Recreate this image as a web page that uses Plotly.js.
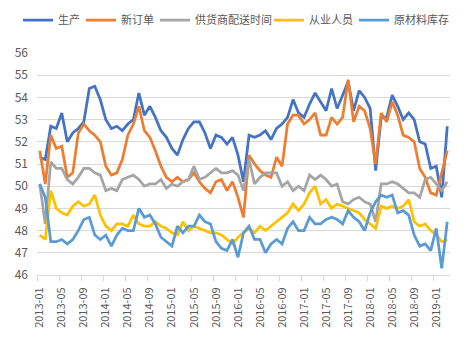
<!DOCTYPE html>
<html>
<head>
<meta charset="utf-8">
<script src="https://cdn.plot.ly/plotly-3.0.1.min.js"></script>
<style>html,body{margin:0;padding:0;background:#fff;}#chart{width:469px;height:342px;}</style>
</head>
<body>
<div id="chart"></div>
<script>
// Months 2013-01 .. 2019-03
const months = [];
for (let y = 2013; y <= 2019; y++) {
  for (let m = 1; m <= 12; m++) {
    if (y === 2019 && m > 3) break;
    months.push(y + '-' + String(m).padStart(2, '0'));
  }
}

const seriesNames = ['生产', '新订单', '供货商配送时间', '从业人员', '原材料库存'];

const production = [
  51.3, 51.2, 52.7, 52.6, 53.3, 52.0, 52.4, 52.6, 52.9, 54.4, 54.5, 53.9,
  53.0, 52.6, 52.7, 52.5, 52.8, 53.0, 54.2, 53.2, 53.6, 53.1, 52.5, 52.2,
  51.7, 51.4, 52.1, 52.6, 52.9, 52.9, 52.4, 51.7, 52.3, 52.2, 51.9, 52.2,
  51.4, 50.2, 52.3, 52.2, 52.3, 52.5, 52.1, 52.6, 52.8, 53.1, 53.9, 53.3,
  53.1, 53.7, 54.2, 53.8, 53.4, 54.4, 53.5, 54.1, 54.7, 53.4, 54.3, 54.0,
  53.5, 50.7, 53.1, 53.1, 54.1, 53.6, 53.0, 53.3, 53.0, 52.0, 51.9, 50.8,
  50.9, 49.5, 52.7
];
const newOrders = [
  51.6, 50.1, 52.3, 51.7, 51.8, 50.4, 50.6, 52.4, 52.8, 52.5, 52.3, 52.0,
  50.9, 50.5, 50.6, 51.2, 52.3, 52.8, 53.6, 52.5, 52.2, 51.6, 50.9, 50.4,
  50.2, 50.4, 50.2, 50.3, 50.6, 50.2, 49.9, 49.7, 50.2, 50.3, 49.8, 50.2,
  49.5, 48.6, 51.4, 51.0, 50.7, 50.5, 50.4, 51.3, 50.9, 52.8, 53.2, 53.2,
  52.8, 53.0, 53.3, 52.3, 52.3, 53.1, 52.8, 53.1, 54.8, 52.9, 53.6, 53.4,
  52.6, 51.0, 53.3, 52.9, 53.8, 53.2, 52.3, 52.2, 52.0, 50.8, 50.4, 49.7,
  49.6, 50.6, 51.6
];
const supplierDelivery = [
  50.1, 48.3, 51.1, 50.8, 50.8, 50.3, 50.1, 50.4, 50.8, 50.8, 50.6, 50.5,
  49.8, 49.9, 49.8, 50.3, 50.4, 50.5, 50.3, 50.0, 50.1, 50.1, 50.3, 49.9,
  50.1, 50.0, 50.2, 50.3, 50.9, 50.3, 50.4, 50.6, 50.8, 50.6, 50.6, 50.7,
  50.5, 49.8, 51.2, 50.1, 50.4, 50.6, 50.6, 50.6, 50.0, 50.2, 49.8, 50.0,
  49.8, 50.5, 50.3, 50.5, 50.3, 50.0, 50.1, 49.3, 49.2, 49.4, 49.5, 49.3,
  49.2, 48.4, 50.1, 50.1, 50.2, 50.1, 49.9, 49.7, 49.7, 49.5, 50.3, 50.4,
  50.1, 49.8, 50.2
];
const employment = [
  47.8, 47.6, 49.8, 49.0, 48.8, 48.7, 49.1, 49.3, 49.1, 49.2, 49.6, 48.7,
  48.2, 48.0, 48.3, 48.3, 48.2, 48.7, 48.3, 48.2, 48.2, 48.4, 48.2, 48.1,
  47.9, 47.8, 48.4, 48.0, 48.2, 48.1, 48.0, 47.9, 47.9, 47.8, 47.6, 47.4,
  47.7, 47.9, 48.1, 47.9, 48.2, 48.0, 48.2, 48.4, 48.6, 48.8, 49.2, 48.9,
  49.2, 49.7, 50.0, 49.2, 49.4, 49.0, 49.2, 49.1, 49.0, 48.9, 48.8, 48.5,
  48.3, 48.1, 49.1, 49.0, 49.1, 49.0, 49.1, 49.4, 48.4, 48.2, 48.3, 48.0,
  47.8, 47.5, 47.6
];
const rawInventory = [
  50.1, 49.5, 47.5, 47.5, 47.6, 47.4, 47.6, 48.0, 48.5, 48.6, 47.8, 47.6,
  47.8, 47.3, 47.8, 48.1, 48.0, 48.0, 49.0, 48.6, 48.7, 48.3, 47.7, 47.5,
  47.3, 48.2, 47.9, 48.2, 48.2, 48.7, 48.4, 48.3, 47.5, 47.2, 47.1, 47.6,
  46.8, 47.9, 48.2, 47.6, 47.6, 47.0, 47.4, 47.6, 47.4, 48.1, 48.4, 48.0,
  48.0, 48.6, 48.3, 48.3, 48.5, 48.6, 48.5, 48.3, 48.9, 48.6, 48.4, 48.0,
  48.8, 49.3, 49.6, 49.5, 49.6, 48.8, 48.9, 48.7, 47.8, 47.3, 47.4, 47.1,
  48.1, 46.3, 48.4
];

const colors = ['#4472C4', '#ED7D31', '#A5A5A5', '#FFC000', '#5B9BD5'];
const allSeries = [production, newOrders, supplierDelivery, employment, rawInventory];
const legendOf = ['legend', 'legend', 'legend', 'legend2', 'legend2'];

const legendFontSize = 11;
const idx = months.map((_, i) => i);
const traces = allSeries.map((vals, k) => ({
  type: 'scatter',
  mode: 'lines',
  name: seriesNames[k],
  legend: legendOf[k],
  legendwidth: seriesNames[k].length * legendFontSize - 4,
  x: idx,
  y: vals,
  line: {color: colors[k], width: 2.75},
  hovertemplate: '%{text}: %{y}<extra>' + seriesNames[k] + '</extra>',
  text: months
}));

const labelIdx = idx.filter(i => i % 4 === 0);
const tickMarkPos = labelIdx.map(i => i - 0.5);

const font = {family: '"Noto Sans CJK SC", "Noto Sans", sans-serif', color: '#595959'};
const legendCommon = {
  orientation: 'h',
  xref: 'container', yref: 'container',
  xanchor: 'left',
  y: 1 - 20 / 342, yanchor: 'middle',
  font: Object.assign({}, font, {size: legendFontSize}),
  itemwidth: 30,
  bgcolor: 'rgba(0,0,0,0)',
  borderwidth: 0
};

const layout = {
  width: 469,
  height: 342,
  margin: {l: 37, r: 19, t: 53, b: 67},
  paper_bgcolor: '#ffffff',
  plot_bgcolor: '#ffffff',
  font: font,
  showlegend: true,
  legend: Object.assign({}, legendCommon, {x: 18 / 469}),
  legend2: Object.assign({}, legendCommon, {x: 269 / 469}),
  xaxis: {
    range: [-0.5, 74.5],
    tickmode: 'array',
    tickvals: labelIdx,
    ticktext: labelIdx.map(i => months[i]),
    tickangle: -90,
    ticks: 'outside',
    ticklen: 7,
    tickcolor: 'rgba(0,0,0,0)',
    tickfont: Object.assign({}, font, {size: 11}),
    showgrid: false,
    zeroline: false,
    showline: true,
    linecolor: '#D9D9D9',
    linewidth: 1,
    minor: {
      tickmode: 'array',
      tickvals: tickMarkPos,
      ticks: 'outside',
      ticklen: 5,
      tickcolor: '#D9D9D9',
      tickwidth: 1,
      showgrid: false
    },
    fixedrange: true
  },
  yaxis: {
    range: [46, 56],
    tickmode: 'linear',
    tick0: 46,
    dtick: 1,
    showgrid: true,
    gridcolor: '#D9D9D9',
    gridwidth: 1,
    zeroline: false,
    showline: false,
    ticks: '',
    ticklabelstandoff: 8,
    tickfont: Object.assign({}, font, {size: 12}),
    fixedrange: true
  }
};

Plotly.newPlot('chart', traces, layout, {displayModeBar: false, staticPlot: true});
</script>
</body>
</html>
